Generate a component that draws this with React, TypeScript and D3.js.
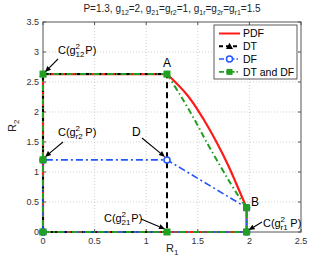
import React from 'react';
import * as d3 from 'd3';

// capacities
const C12 = 2.632; // C(g12^2 P)
const C21 = 1.2016; // C(g21^2 P)
const Cr2 = 1.2016; // C(gr2^2 P)
const Cr1 = 1.973; // C(gr1^2 P)
const By = 0.405;

const xTicks = [0, 0.5, 1, 1.5, 2, 2.5];
const yTicks = [0, 0.5, 1, 1.5, 2, 2.5, 3, 3.5];

// boundary A -> B
const pdfCurve = [
  [C21, C12], [1.405, 2.267], [1.560, 1.867], [1.686, 1.483], [1.793, 1.117], [1.870, 0.817], [1.928, 0.583], [Cr1, By],
];
const dtdfCurve = [
  [C21, C12], [1.335, 2.267], [1.470, 1.867], [1.590, 1.483], [1.712, 1.117], [1.815, 0.817], [1.900, 0.583], [Cr1, By],
];

const pdfStraight = [[C21, C12], [0, C12], [0, 0], [Cr1, 0], [Cr1, By]];
const dtPts = [[0, 0], [0, C12], [C21, C12], [C21, 0], [0, 0]];
const dfPts = [[0, 0], [0, Cr2], [C21, Cr2], [Cr1, By], [Cr1, 0], [0, 0]];
const dtdfStraight = [[C21, C12], [0, C12], [0, 0], [Cr1, 0], [Cr1, By]];
const dtdfMarks = [[0, 0], [0, Cr2], [0, C12], [C21, C12], [Cr1, By], [Cr1, 0], [C21, 0]];

const legendItems = ['PDF', 'DT', 'DF', 'DT and DF'];

const RED = '#ff1a1a';
const BLUE = '#2255ff';
const GREEN = '#22a022';
const FONT = 'Liberation Sans, Arial, sans-serif';

const margin = { top: 22, right: 31, bottom: 30, left: 43 };
const W = 332, H = 262;

const x = d3.scaleLinear().domain([0, 2.5]).range([margin.left, W - margin.right]);
const y = d3.scaleLinear().domain([0, 3.5]).range([H - margin.bottom, margin.top]);
const line = d3.line<number[]>().x(d => x(d[0])).y(d => y(d[1]));
const curve = d3.line<number[]>().x(d => x(d[0])).y(d => y(d[1])).curve(d3.curveCatmullRom);

// C(g^2_sub P) label, x = left edge, y = baseline
const CapLabel = ({ px, py, sub }: { px: number; py: number; sub: string }) => (
  <g fontFamily={FONT} fill="#000">
    <text x={px} y={py} fontSize={11}>C(g</text>
    <text x={px + 17.5} y={py - 5} fontSize={8}>2</text>
    <text x={px + 17.5} y={py + 3} fontSize={8}>{sub}</text>
    <text x={px + 18.5 + sub.length * 4.4} y={py} fontSize={11}>P)</text>
  </g>
);

const Arrow = ({ x1, y1, x2, y2 }: { x1: number; y1: number; x2: number; y2: number }) => {
  const a = Math.atan2(y2 - y1, x2 - x1);
  const L = 6, w = 2.6;
  const bx = x2 - L * Math.cos(a), by = y2 - L * Math.sin(a);
  const p1 = [bx + w * Math.sin(a), by - w * Math.cos(a)];
  const p2 = [bx - w * Math.sin(a), by + w * Math.cos(a)];
  return (
    <g>
      <line x1={x1} y1={y1} x2={bx} y2={by} stroke="#000" strokeWidth={1.1} />
      <polygon points={`${x2},${y2} ${p1[0]},${p1[1]} ${p2[0]},${p2[1]}`} fill="#000" />
    </g>
  );
};

const tri = (cx: number, cy: number, s: number) => `${cx},${cy - s} ${cx - s},${cy + s * 0.8} ${cx + s},${cy + s * 0.8}`;

const App = () => {
  const [x0, x1] = x.range();
  const [y0, y1] = y.range();
  return (
    <svg width={W} height={H} style={{ position: 'absolute', left: 0, top: 0, background: '#fff' }}>
      {/* title */}
      <text x={172} y={12} textAnchor="middle" fontFamily={FONT} fontSize={10} fill="#222">
        P=1.3, g<tspan fontSize={7} dy={2.5}>12</tspan><tspan dy={-2.5}>=2, g</tspan>
        <tspan fontSize={7} dy={2.5}>21</tspan><tspan dy={-2.5}>=g</tspan>
        <tspan fontSize={7} dy={2.5}>r2</tspan><tspan dy={-2.5}>=1, g</tspan>
        <tspan fontSize={7} dy={2.5}>1r</tspan><tspan dy={-2.5}>=g</tspan>
        <tspan fontSize={7} dy={2.5}>2r</tspan><tspan dy={-2.5}>=g</tspan>
        <tspan fontSize={7} dy={2.5}>r1</tspan><tspan dy={-2.5}>=1.5</tspan>
      </text>

      {/* grid */}
      {xTicks.slice(1, -1).map(t => (
        <line key={'gx' + t} x1={x(t)} x2={x(t)} y1={y1} y2={y0} stroke="#bbb" strokeWidth={0.7} strokeDasharray="1,2" />
      ))}
      {yTicks.slice(1, -1).map(t => (
        <line key={'gy' + t} x1={x0} x2={x1} y1={y(t)} y2={y(t)} stroke="#bbb" strokeWidth={0.7} strokeDasharray="1,2" />
      ))}

      {/* ticks + labels */}
      <g fontFamily={FONT} fontSize={9} fill="#333">
        {xTicks.map(t => (
          <g key={'tx' + t}>
            <line x1={x(t)} x2={x(t)} y1={y0} y2={y0 - 3} stroke="#555" />
            <line x1={x(t)} x2={x(t)} y1={y1} y2={y1 + 3} stroke="#555" />
            <text x={x(t)} y={y0 + 12} textAnchor="middle">{t}</text>
          </g>
        ))}
        {yTicks.map(t => (
          <g key={'ty' + t}>
            <line x1={x0} x2={x0 + 3} y1={y(t)} y2={y(t)} stroke="#555" />
            <line x1={x1} x2={x1 - 3} y1={y(t)} y2={y(t)} stroke="#555" />
            <text x={x0 - 4} y={y(t) + 3} textAnchor="end">{t}</text>
          </g>
        ))}
      </g>
      <rect x={x0} y={y1} width={x1 - x0} height={y0 - y1} fill="none" stroke="#555" strokeWidth={1} />

      {/* axis labels */}
      <text x={166} y={252} fontFamily={FONT} fontSize={11} fill="#222">
        R<tspan fontSize={8} dy={3}>1</tspan>
      </text>
      <text transform="translate(16,132) rotate(-90)" fontFamily={FONT} fontSize={11} fill="#222">
        R<tspan fontSize={8} dy={3}>2</tspan>
      </text>

      {/* series */}
      <path d={line(pdfStraight) || ''} fill="none" stroke={RED} strokeWidth={2.2} />
      <path d={curve(pdfCurve) || ''} fill="none" stroke={RED} strokeWidth={2.2} />
      <path d={line(dtPts) || ''} fill="none" stroke="#000" strokeWidth={2} strokeDasharray="6,4" />
      {dtPts.map((p, i) => <polygon key={'dt' + i} points={tri(x(p[0]), y(p[1]), 3.5)} fill="#000" />)}
      <path d={line(dfPts) || ''} fill="none" stroke={BLUE} strokeWidth={1.6} strokeDasharray="7,3,2,3" />
      {dfPts.map((p, i) => <circle key={'df' + i} cx={x(p[0])} cy={y(p[1])} r={3} fill="#fff" stroke={BLUE} strokeWidth={1.5} />)}
      <path d={line(dtdfStraight) || ''} fill="none" stroke={GREEN} strokeWidth={2} strokeDasharray="6,3,1.5,3" />
      <path d={curve(dtdfCurve) || ''} fill="none" stroke={GREEN} strokeWidth={2} strokeDasharray="6,3,1.5,3" />
      {dtdfMarks.map((p, i) => <rect key={'g' + i} x={x(p[0]) - 3} y={y(p[1]) - 3} width={6} height={6} fill={GREEN} stroke={GREEN} />)}

      {/* annotations */}
      <text x={x(C21)} y={67} textAnchor="middle" fontFamily={FONT} fontSize={12}>A</text>
      <text x={251} y={206} fontFamily={FONT} fontSize={12}>B</text>
      <text x={132} y={136} fontFamily={FONT} fontSize={12}>D</text>
      <CapLabel px={58} py={54} sub="12" />
      <Arrow x1={58} y1={59} x2={x(0) + 2} y2={y(C12) - 2} />
      <CapLabel px={58} py={136} sub="r2" />
      <Arrow x1={63} y1={142} x2={x(0) + 2} y2={y(Cr2) - 3} />
      <Arrow x1={142} y1={138} x2={x(C21) - 2} y2={y(Cr2) - 3} />
      <CapLabel px={104} py={222} sub="21" />
      <Arrow x1={141} y1={219} x2={x(C21) - 2} y2={y(0) - 3} />
      <CapLabel px={263} py={227} sub="r1" />
      <Arrow x1={262} y1={222} x2={x(Cr1) + 2} y2={y(0) - 2} />

      {/* legend */}
      <g>
        <rect x={214} y={25} width={83} height={54} fill="#fff" stroke="#333" strokeWidth={0.8} />
        {legendItems.map((name, i) => {
          const ly = 33.5 + i * 12.8;
          return (
            <g key={name}>
              {i === 0 && <line x1={219} x2={240} y1={ly} y2={ly} stroke={RED} strokeWidth={2} />}
              {i === 1 && <line x1={219} x2={240} y1={ly} y2={ly} stroke="#000" strokeWidth={2} strokeDasharray="4,3" />}
              {i === 1 && <polygon points={tri(229.5, ly, 3.5)} fill="#000" />}
              {i === 2 && <line x1={219} x2={240} y1={ly} y2={ly} stroke={BLUE} strokeWidth={1.5} strokeDasharray="5,2,1.5,2" />}
              {i === 2 && <circle cx={229.5} cy={ly} r={3} fill="#fff" stroke={BLUE} strokeWidth={1.5} />}
              {i === 3 && <line x1={219} x2={240} y1={ly} y2={ly} stroke={GREEN} strokeWidth={1.8} strokeDasharray="5,2,1.5,2" />}
              {i === 3 && <rect x={226.5} y={ly - 3} width={6} height={6} fill={GREEN} />}
              <text x={243} y={ly + 3.8} fontFamily={FONT} fontSize={10.5} fill="#000">{name}</text>
            </g>
          );
        })}
      </g>
    </svg>
  );
};

export default App;
